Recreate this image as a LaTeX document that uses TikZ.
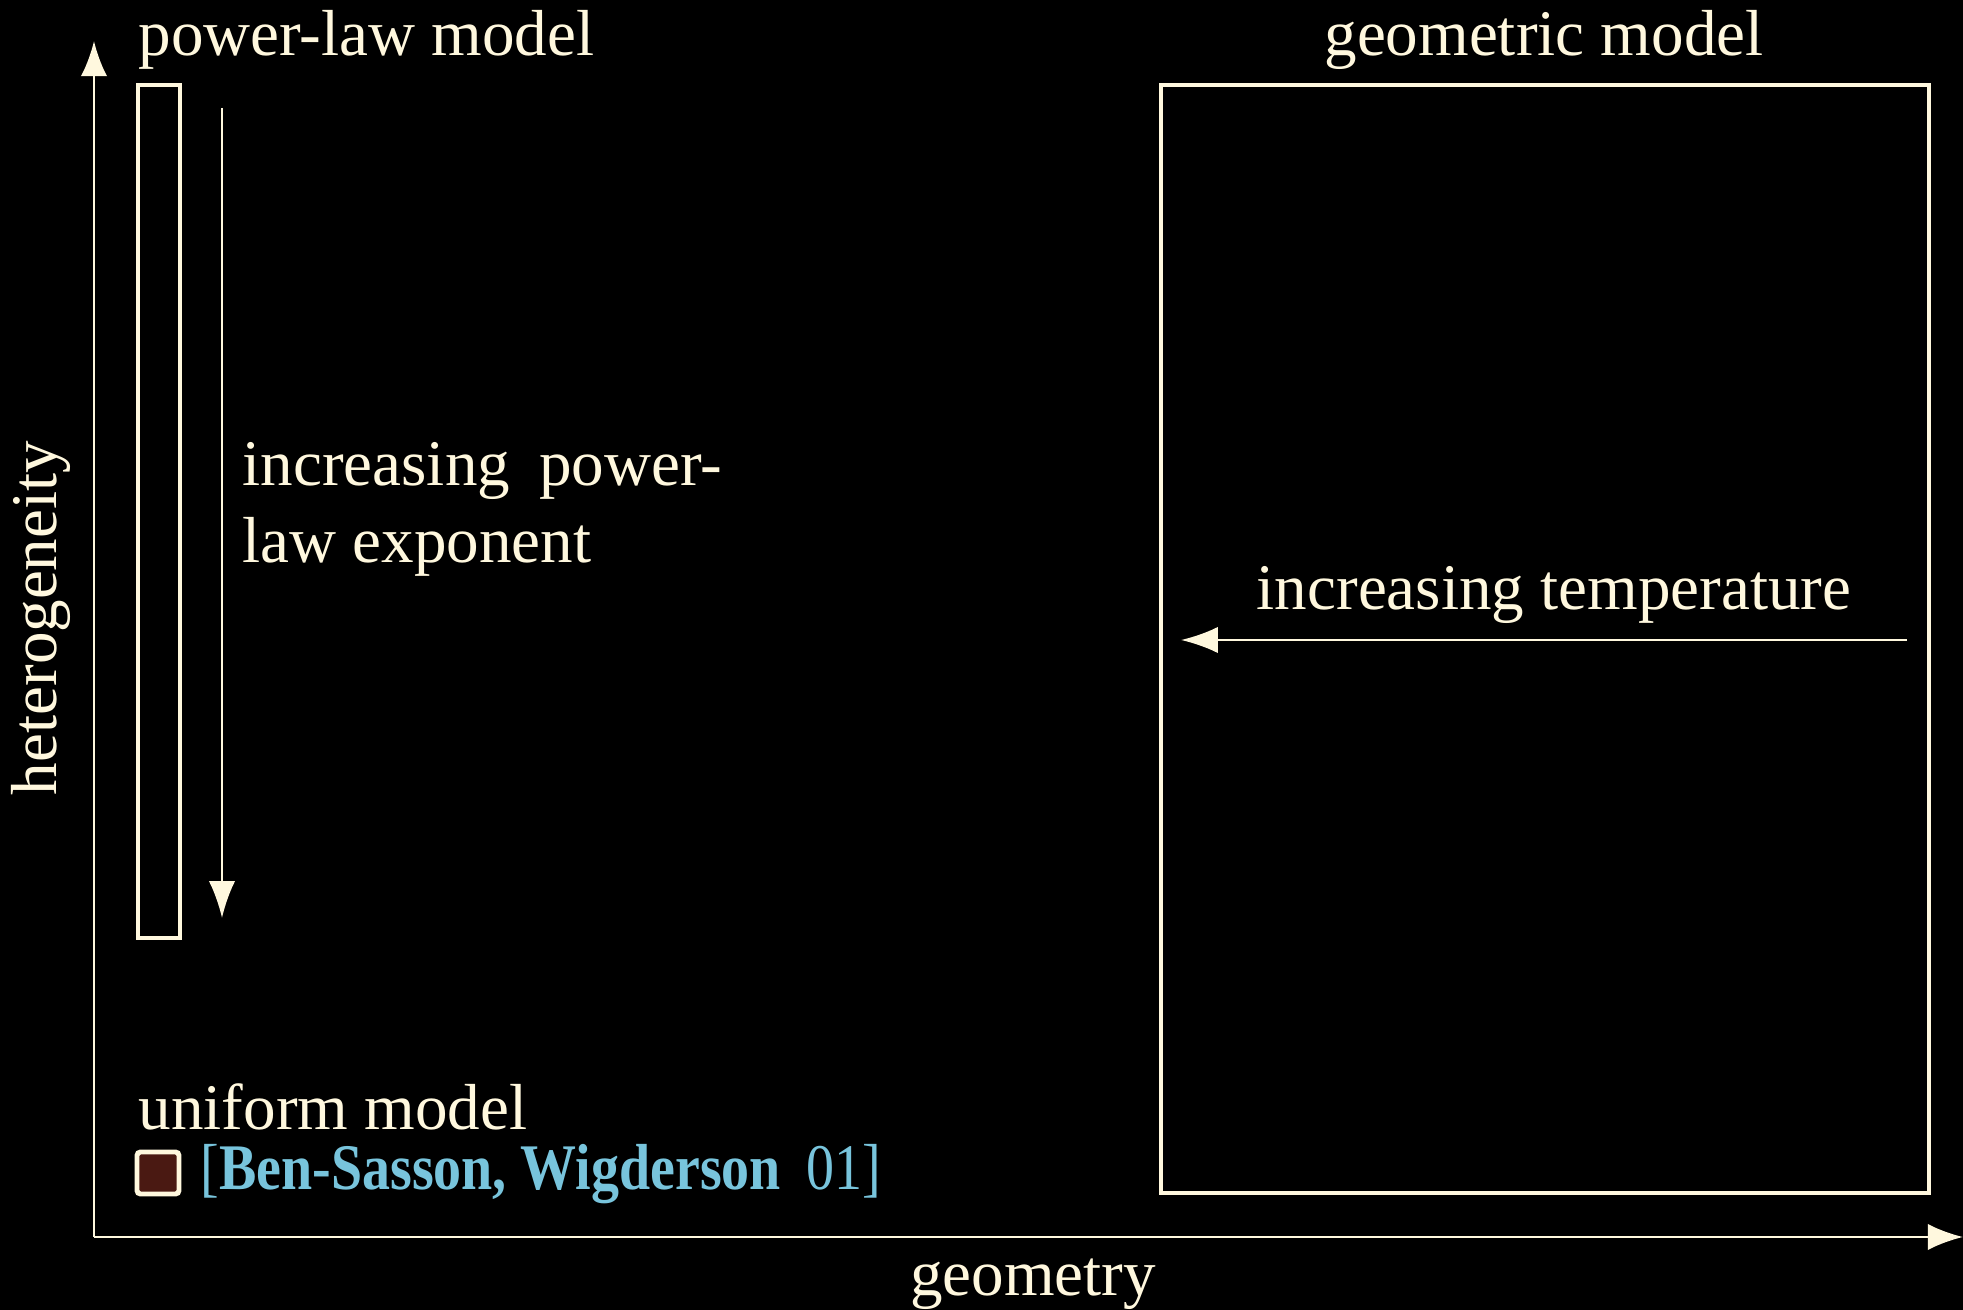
\documentclass[tikz,border=0pt]{standalone}
\usepackage{graphicx}
\usepackage{fontspec}
\setmainfont{Liberation Serif}
\usetikzlibrary{arrows.meta}
\definecolor{cream}{HTML}{FFF8DE}
\definecolor{citeblue}{HTML}{78C4DC}
\definecolor{markbrown}{HTML}{4A1912}

\begin{document}
\begin{tikzpicture}[x=0.01cm, y=-0.01cm,
    every node/.style={text=cream, font=\fontsize{18.5}{22}\selectfont, inner sep=0pt},
    axis/.style={draw=cream, line width=0.8pt, -{Latex[length=10pt,width=7.5pt]}},
    trend/.style={draw=cream, line width=0.7pt, -{Latex[length=10.5pt,width=7.5pt]}},
    modelbox/.style={draw=cream, line width=1.4pt}]
    \fill[black] (0,0) rectangle (1963,1310);
    \useasboundingbox (0,0) rectangle (1963,1310);
    % axes
    \coordinate (origin) at (94,1237);
    \coordinate (ytop) at (94,41);
    \coordinate (xend) at (1963,1237);
    \draw[axis] (origin) -- (ytop);
    \draw[axis] (origin) -- (xend);
    \node[rotate=90, anchor=base] (ylabel) at (57,618) {heterogeneity};
    \node[anchor=base] (xlabel) at (1033,1296) {geometry};
    % power-law model
    \node[anchor=base west] (plmodel) at (138,56) {power-law model};
    \draw[modelbox] (138,85) rectangle (180,938);
    \coordinate (expstart) at (222,108);
    \coordinate (expend) at (222,918);
    \draw[trend] (expstart) -- (expend);
    \node[anchor=base west, align=left] (explabel) at (242,563) {increasing\hspace{0.45em}power-\\law exponent};
    % geometric model
    \node[anchor=base] (geomodel) at (1544,56) {geometric model};
    \draw[modelbox] (1161,85) rectangle (1929,1193);
    \coordinate (tempstart) at (1907,640);
    \coordinate (tempend) at (1181,640);
    \draw[trend] (tempstart) -- (tempend);
    \node[anchor=base] (templabel) at (1554,610) {increasing temperature};
    % uniform model
    \node[anchor=base west] (uniform) at (138,1130) {uniform model};
    \node[draw=cream, fill=markbrown, line width=1.4pt, rounded corners=1pt, minimum size=0.42cm] (unimark) at (158,1173) {};
    \node[anchor=base west, text=citeblue] (unicite) at (200,1189) {\scalebox{0.86}[1]{[\textbf{Ben-Sasson, Wigderson}\hspace{0.45em}01]}};
\end{tikzpicture}
\end{document}
